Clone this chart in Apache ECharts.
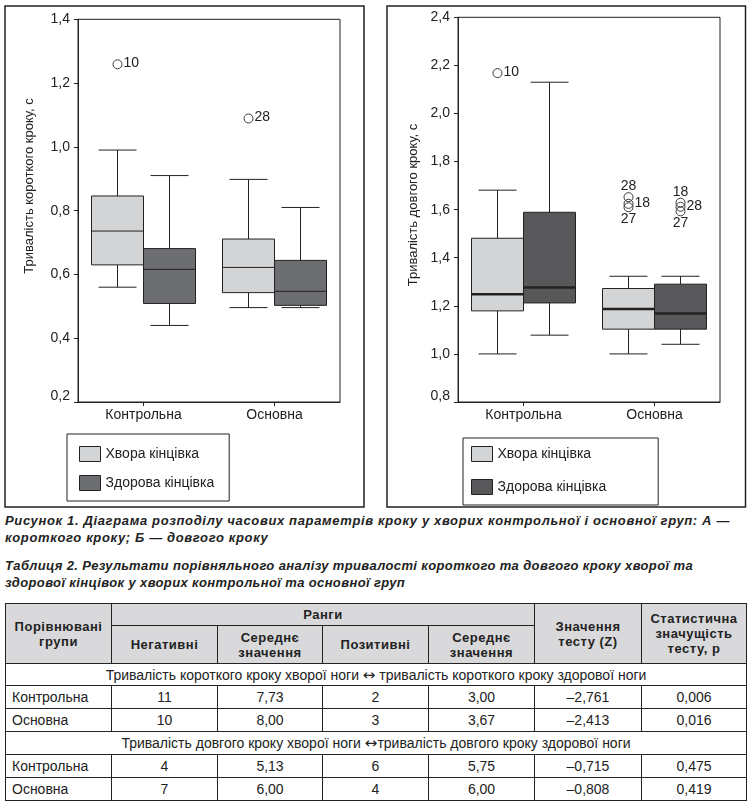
<!DOCTYPE html>
<html>
<head>
<meta charset="utf-8">
<script src="https://cdn.jsdelivr.net/npm/echarts/dist/echarts.min.js"></script>
<style>
  html, body { margin:0; padding:0; background:#fff; }
  body { width:756px; height:811px; position:relative; overflow:hidden; font-family:"Liberation Sans", Arial, sans-serif; color:#222; }
  #chart { position:absolute; left:0; top:0; width:756px; height:512px; }
  .cap { position:absolute; left:5px; font-weight:bold; font-style:italic; font-size:13px; white-space:nowrap; color:#222; }
  .cap span { display:inline-block; }
  table { position:absolute; left:5px; top:603px; width:741px; border-collapse:collapse; table-layout:fixed; font-size:14px; color:#222; }
  td, th { border:1.3px solid #222; padding:0; text-align:center; vertical-align:middle; }
  th { background:#d9d9db; font-size:13px; font-weight:bold; letter-spacing:0.5px; line-height:15px; }
  td.g { text-align:left; padding-left:6px; }
  td.sec { text-align:center; }
  .arr { font-family:"DejaVu Sans", sans-serif; font-size:15px; }
</style>
</head>
<body>
<div id="chart"></div>

<div class="cap" id="cap1" style="top:512px; line-height:17px;">
  <span data-w="725">Рисунок 1. Діаграма розподілу часових параметрів кроку у хворих контрольної і основної груп: А —</span><br>
  <span>короткого кроку; Б — довгого кроку</span>
</div>
<div class="cap" id="cap2" style="top:558px; line-height:16.5px;">
  <span data-w="688">Таблиця 2. Результати порівняльного аналізу тривалості короткого та довгого кроку хворої та</span><br>
  <span>здорової кінцівок у хворих контрольної та основної груп</span>
</div>

<table id="tbl">
  <colgroup>
    <col style="width:106px"><col style="width:106px"><col style="width:105px"><col style="width:106px"><col style="width:106px"><col style="width:107px"><col style="width:105px">
  </colgroup>
  <tr style="height:22px">
    <th rowspan="2">Порівнювані<br>групи</th>
    <th colspan="4">Ранги</th>
    <th rowspan="2">Значення<br>тесту (Z)</th>
    <th rowspan="2">Статистична<br>значущість<br>тесту, p</th>
  </tr>
  <tr style="height:38px">
    <th>Негативні</th><th>Середнє<br>значення</th><th>Позитивні</th><th>Середнє<br>значення</th>
  </tr>
  <tbody id="tb"></tbody>
</table>

<script>
// ---------- data ----------
const categories = ['Контрольна', 'Основна'];
const seriesNames = ['Хвора кінцівка', 'Здорова кінцівка'];

// Panel A: short step duration, s  [min, Q1, median, Q3, max]
const shortSick    = [[0.56, 0.63, 0.736, 0.846, 0.99], [0.496, 0.543, 0.622, 0.711, 0.898]];
const shortHealthy = [[0.44, 0.509, 0.616, 0.681, 0.91], [0.496, 0.503, 0.547, 0.644, 0.81]];
const shortSickOutliers    = [[0, 1.259, '10'], [1, 1.089, '28']];
const shortHealthyOutliers = [];

// Panel B: long step duration, s
const longSick    = [[1.0, 1.179, 1.248, 1.481, 1.681], [1.0, 1.103, 1.187, 1.272, 1.323]];
const longHealthy = [[1.078, 1.212, 1.276, 1.589, 2.13], [1.04, 1.103, 1.168, 1.29, 1.323]];
const longSickOutliers    = [[0, 2.168, '10'], [1, 1.652, '28'], [1, 1.624, '18'], [1, 1.61, '27']];
const longHealthyOutliers = [[1, 1.629, '18'], [1, 1.612, '28'], [1, 1.593, '27']];

const yTitleA = 'Тривалість короткого кроку, с';
const yTitleB = 'Тривалість довгого кроку, с';

// table
const sectionTitles = [
  ['Тривалість короткого кроку хворої ноги ', ' тривалість короткого кроку здорової ноги'],
  ['Тривалість довгого кроку хворої ноги ', 'тривалість довгого кроку здорової ноги']
];
const tableGroups = ['Контрольна', 'Основна'];
const negRanks   = [['11', '10'], ['4', '7']];
const negMeans   = [['7,73', '8,00'], ['5,13', '6,00']];
const posRanks   = [['2', '3'], ['6', '4']];
const posMeans   = [['3,00', '3,67'], ['5,75', '6,00']];
const zValues    = [['–2,761', '–2,413'], ['–0,715', '–0,808']];
const pValues    = [['0,006', '0,016'], ['0,475', '0,419']];

// ---------- table build ----------
(function () {
  const tb = document.getElementById('tb');
  let html = '';
  sectionTitles.forEach((t, s) => {
    html += '<tr style="height:' + (s === 0 ? 22 : 23) + 'px"><td class="sec" colspan="7">' + t[0] + '<span class="arr">↔</span>' + t[1] + '</td></tr>';
    tableGroups.forEach((g, r) => {
      html += '<tr style="height:23px"><td class="g">' + g + '</td><td>' + negRanks[s][r] + '</td><td>' + negMeans[s][r] +
        '</td><td>' + posRanks[s][r] + '</td><td>' + posMeans[s][r] + '</td><td>' + zValues[s][r] + '</td><td>' + pValues[s][r] + '</td></tr>';
    });
  });
  tb.innerHTML = html;
})();

// ---------- caption letter-spacing fit ----------
document.querySelectorAll('.cap').forEach(cap => {
  const spans = cap.querySelectorAll('span');
  const first = spans[0];
  const target = +first.getAttribute('data-w');
  const w = first.getBoundingClientRect().width;
  const ls = (target - w) / first.textContent.length;
  spans.forEach(s => s.style.letterSpacing = ls.toFixed(3) + 'px');
});

// ---------- chart ----------
const LIGHT = '#d3d4d6';
const DARK_A = '#6d6e71';
const DARK_B = '#58585b';
const INK = '#222';
const FONT = '"Liberation Sans", Arial, sans-serif';
const BOX_FRAC = 52 / 131;
const CAP_FRAC = 38 / 131;

function boxRender(side, medW) {
  return function (params, api) {
    const cat = api.value(0);
    const band = api.size([1, 0])[0];
    const bw = band * BOX_FRAC;
    const cx = api.coord([cat, api.value(3)])[0] + side * bw / 2;
    const y = v => api.coord([cat, v])[1];
    const lo = y(api.value(1)), q1 = y(api.value(2)), md = y(api.value(3)), q3 = y(api.value(4)), hi = y(api.value(5));
    const cap = band * CAP_FRAC / 2;
    const ls = { stroke: INK, lineWidth: 1 };
    return {
      type: 'group',
      children: [
        { type: 'line', shape: { x1: cx, y1: hi, x2: cx, y2: q3 }, style: ls },
        { type: 'line', shape: { x1: cx, y1: q1, x2: cx, y2: lo }, style: ls },
        { type: 'line', shape: { x1: cx - cap, y1: hi, x2: cx + cap, y2: hi }, style: ls },
        { type: 'line', shape: { x1: cx - cap, y1: lo, x2: cx + cap, y2: lo }, style: ls },
        { type: 'rect', shape: { x: cx - bw / 2, y: q3, width: bw, height: q1 - q3 }, style: { fill: api.visual('color'), stroke: INK, lineWidth: 1 } },
        { type: 'line', shape: { x1: cx - bw / 2, y1: md, x2: cx + bw / 2, y2: md }, style: { stroke: INK, lineWidth: medW } }
      ]
    };
  };
}

function outlierRender(side, list) {
  return function (params, api) {
    const item = list[params.dataIndex];
    const cat = item[0], val = item[1], lab = item[2];
    const band = api.size([1, 0])[0];
    const bw = band * BOX_FRAC;
    const p = api.coord([cat, val]);
    const cx = p[0] + side * bw / 2, cy = p[1];
    const group = list.filter(o => o[0] === cat).sort((a, b) => b[1] - a[1]);
    let pos = 'right';
    if (group.length > 1) pos = ['top', 'right', 'bottom'][group.indexOf(item)] || 'right';
    let ts;
    if (pos === 'right') ts = { x: cx + 6, y: cy - 1, align: 'left', verticalAlign: 'middle' };
    else if (pos === 'top') ts = { x: cx, y: cy - 4, align: 'center', verticalAlign: 'bottom' };
    else ts = { x: cx, y: cy + 5, align: 'center', verticalAlign: 'top' };
    return {
      type: 'group',
      children: [
        { type: 'circle', shape: { cx: cx, cy: cy, r: 4.5 }, style: { fill: 'none', stroke: '#3a3a3a', lineWidth: 1 } },
        { type: 'text', style: Object.assign({ text: lab, fill: INK, fontSize: 14, fontFamily: FONT }, ts) }
      ]
    };
  };
}

function toRows(arr) { return arr.map((v, i) => [i].concat(v)); }

function yAxis(gi, min, max) {
  const fmtMin = min.toFixed(1).replace('.', ',');
  return {
    type: 'value', gridIndex: gi, min: min, max: max, interval: 0.2,
    axisLine: { show: true, lineStyle: { color: INK, width: 1 } },
    axisTick: { show: true, length: 4, lineStyle: { color: INK } },
    splitLine: { show: false },
    axisLabel: {
      margin: 8, color: INK, fontSize: 14, fontFamily: FONT,
      formatter: v => {
        const s = v.toFixed(1).replace('.', ',');
        return s === fmtMin ? '{m|' + s + '}' : s;
      },
      rich: { m: { fontSize: 14, fontFamily: FONT, color: INK, padding: [0, 0, 12, 0] } }
    }
  };
}
function xAxis(gi) {
  return {
    type: 'category', gridIndex: gi, data: categories,
    axisLine: { show: true, lineStyle: { color: INK, width: 1 } },
    axisTick: { show: true, alignWithLabel: true, length: 4, lineStyle: { color: INK } },
    axisLabel: { margin: 6, color: INK, fontSize: 14, fontFamily: FONT }
  };
}

function boxSeries(name, gi, data, color, side, medW) {
  return {
    type: 'custom', name: name, xAxisIndex: gi, yAxisIndex: gi,
    itemStyle: { color: color },
    encode: { x: 0, y: [1, 2, 3, 4, 5] },
    data: toRows(data),
    renderItem: boxRender(side, medW)
  };
}
function outlierSeries(gi, list, side) {
  return {
    type: 'custom', xAxisIndex: gi, yAxisIndex: gi,
    encode: { x: 0, y: 1 },
    data: list.map(o => [o[0], o[1]]),
    renderItem: outlierRender(side, list),
    z: 5
  };
}

function legendCfg(left, top, padding, gap, dark) {
  return {
    orient: 'vertical', left: left, top: top, padding: padding, itemGap: gap,
    itemWidth: 21, itemHeight: 15, icon: 'rect', selectedMode: false,
    backgroundColor: '#fff', borderColor: INK, borderWidth: 1, borderRadius: 0,
    textStyle: { color: INK, fontSize: 14, fontFamily: FONT },
    data: [
      { name: seriesNames[0], itemStyle: { color: LIGHT, borderColor: INK, borderWidth: 1 } },
      { name: seriesNames[1], itemStyle: { color: dark, borderColor: INK, borderWidth: 1 } }
    ]
  };
}

const chart = echarts.init(document.getElementById('chart'));
chart.setOption({
  animation: false,
  backgroundColor: '#fff',
  grid: [
    { left: 78, top: 19.3, width: 262, height: 382.7, show: true, borderColor: INK, borderWidth: 1, backgroundColor: 'transparent' },
    { left: 458, top: 17.3, width: 262, height: 384.7, show: true, borderColor: INK, borderWidth: 1, backgroundColor: 'transparent' }
  ],
  xAxis: [xAxis(0), xAxis(1)],
  yAxis: [yAxis(0, 0.2, 1.4), yAxis(1, 0.8, 2.4)],
  legend: [
    legendCfg(67, 434, [12, 15, 10, 12], 13, DARK_A),
    legendCfg(463, 438, [8, 52, 10, 8], 17, DARK_B)
  ],
  graphic: [
    { type: 'rect', shape: { x: 5, y: 6, width: 359, height: 501 }, style: { fill: 'none', stroke: INK, lineWidth: 1.5 }, silent: true, z: -1 },
    { type: 'rect', shape: { x: 387, y: 6, width: 358.5, height: 501 }, style: { fill: 'none', stroke: INK, lineWidth: 1.5 }, silent: true, z: -1 },
    { type: 'text', x: 29, y: 186, rotation: Math.PI / 2, style: { text: yTitleA, fill: INK, fontSize: 13, fontFamily: FONT, align: 'center', verticalAlign: 'middle' } },
    { type: 'text', x: 413, y: 205, rotation: Math.PI / 2, style: { text: yTitleB, fill: INK, fontSize: 13, fontFamily: FONT, align: 'center', verticalAlign: 'middle' } }
  ],
  series: [
    boxSeries(seriesNames[0], 0, shortSick, LIGHT, -1, 1),
    boxSeries(seriesNames[1], 0, shortHealthy, DARK_A, 1, 1),
    outlierSeries(0, shortSickOutliers, -1),
    outlierSeries(0, shortHealthyOutliers, 1),
    boxSeries(seriesNames[0], 1, longSick, LIGHT, -1, 2.5),
    boxSeries(seriesNames[1], 1, longHealthy, DARK_B, 1, 2.5),
    outlierSeries(1, longSickOutliers, -1),
    outlierSeries(1, longHealthyOutliers, 1)
  ]
});
</script>
</body>
</html>
